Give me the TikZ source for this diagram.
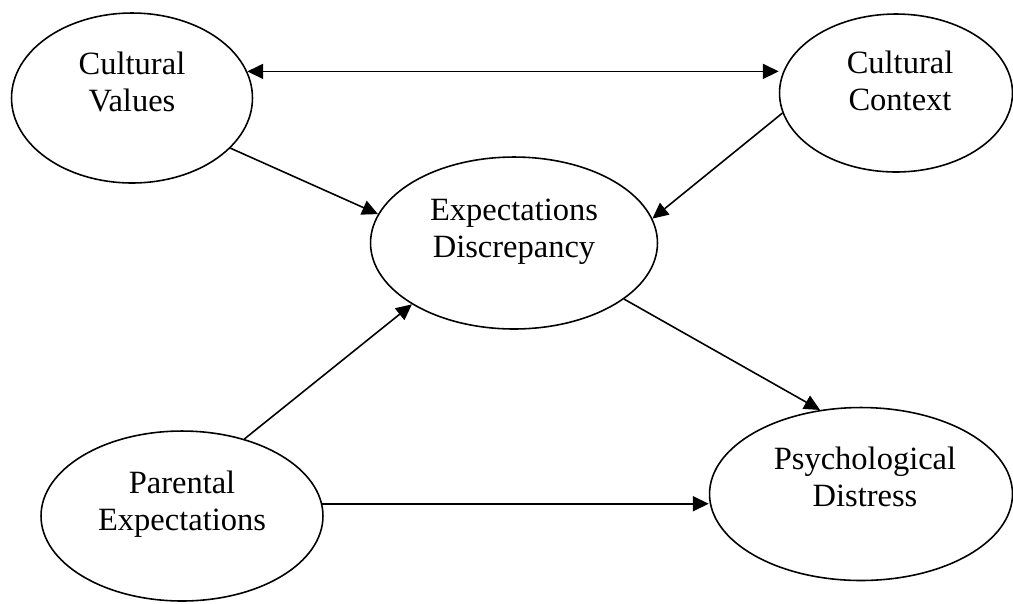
\documentclass[tikz,border=0pt]{standalone}
\usepackage{fontspec}
\setmainfont{Liberation Serif}
\usetikzlibrary{shapes.geometric,arrows.meta}

\begin{document}
\begin{tikzpicture}[x=0.02cm,y=-0.02cm,
  oval/.style={ellipse,draw,line width=0.9pt,inner sep=0pt},
  txt/.style={align=center,font=\fontsize{18.5}{21}\selectfont},
  arr/.style={line width=0.9pt,-{Triangle[length=9pt,width=8.5pt]}}]
\useasboundingbox (0,0) rectangle (1013,603);
\node[oval,minimum width=4.82cm,minimum height=3.4cm] (values) at (132,98) {};
\node[txt] (valuestext) at (132,82) {Cultural\\Values};
\node[oval,minimum width=4.66cm,minimum height=3.16cm] (context) at (896,93) {};
\node[txt] (contexttext) at (900,81) {Cultural\\Context};
\node[oval,minimum width=5.74cm,minimum height=3.44cm] (disc) at (514,243) {};
\node[txt] (disctext) at (514,232) {Expectations\\Discrepancy};
\node[oval,minimum width=5.64cm,minimum height=3.4cm] (parental) at (182,516) {};
\node[txt] (parentaltext) at (182,504) {Parental\\Expectations};
\node[oval,minimum width=6.06cm,minimum height=3.46cm] (distress) at (861,494) {};
\node[txt] (distresstext) at (865,477) {Psychological\\Distress};

\draw[arr,{Triangle[length=9pt,width=8.5pt]}-{Triangle[length=9pt,width=8.5pt]}] (values.13) -- (values.13 -| context.west);
\draw[arr] (values.-27.5) -- (disc.168);
\draw[arr] (context.-170) -- (disc.10.5);
\draw[arr] (disc.-27.7) -- (distress.116);
\draw[arr] (parental.51) -- (disc.-149);
\draw[arr] (parental.5) -- (parental.5 -| distress.west);

\end{tikzpicture}
\end{document}
